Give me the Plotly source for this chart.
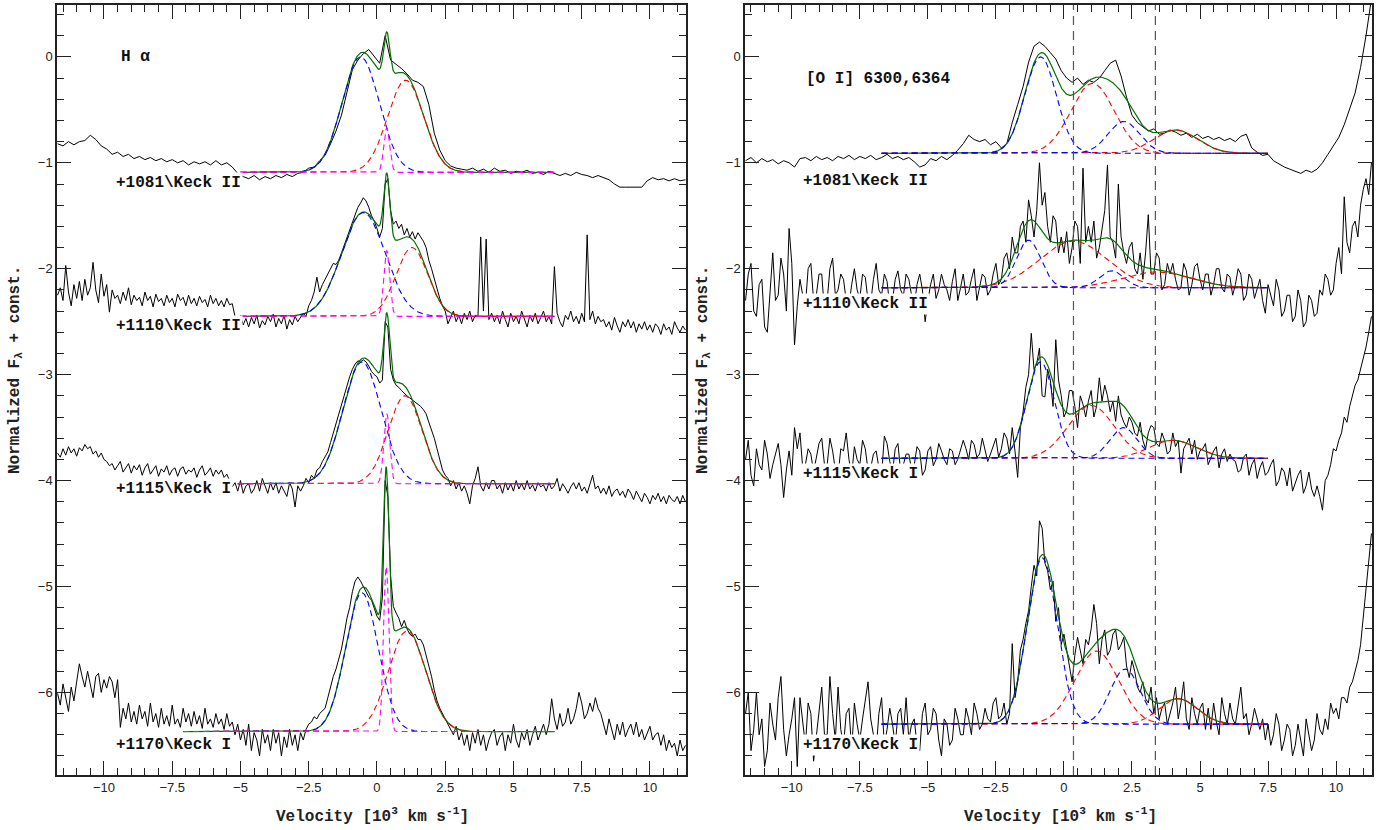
import numpy as np
import plotly.graph_objects as go

# ---------------- data ----------------
# velocity grids (10^3 km/s): every 0.2 and every 0.1 from -11.7 to 11.3
VEL = np.round(-11.7 + 0.2 * np.arange(116), 2)
VEL_FINE = np.round(-11.7 + 0.1 * np.arange(231), 2)

# H-alpha spectra (normalized flux + const.)
HA_1081 = [  # on VEL
    -0.82, -0.84, -0.80, -0.83, -0.80, -0.79, -0.74, -0.78, -0.84, -0.87,
    -0.92, -0.90, -0.94, -0.92, -0.96, -0.94, -0.97, -0.95, -0.98, -0.96,
    -0.99, -0.97, -1.00, -0.98, -1.02, -0.99, -1.01, -0.99, -1.02, -0.98,
    -1.02, -1.00, -1.04, -1.10, -1.13, -1.15, -1.12, -1.16, -1.13, -1.15,
    -1.12, -1.14, -1.11, -1.13, -1.10, -1.09, -1.05, -1.04, -0.98, -0.93,
    -0.82, -0.70, -0.55, -0.32, -0.12, -0.03, 0.03, 0.07, 0.01, -0.06,
    0.20, -0.03, -0.07, -0.11, -0.16, -0.22, -0.24, -0.28, -0.45, -0.72,
    -0.88, -0.98, -1.03, -1.05, -1.06, -1.07, -1.05, -1.08, -1.06, -1.09,
    -1.05, -1.08, -1.07, -1.10, -1.08, -1.09, -1.07, -1.10, -1.09, -1.11,
    -1.08, -1.10, -1.12, -1.10, -1.12, -1.09, -1.11, -1.12, -1.14, -1.12,
    -1.14, -1.16, -1.20, -1.23, -1.23, -1.23, -1.23, -1.23, -1.17, -1.14,
    -1.16, -1.15, -1.17, -1.15, -1.17, -1.16]
HA_1110 = [  # on VEL_FINE
    -2.25, -2.18, -2.30, -1.97, -2.22, -2.35, -2.15, -2.28, -2.12, -2.30,
    -2.10, -2.25, -2.18, -1.94, -2.20, -2.32, -2.05, -2.26, -2.15, -2.41,
    -2.20, -2.28, -2.25, -2.33, -2.22, -2.30, -2.18, -2.34, -2.25, -2.30,
    -2.27, -2.35, -2.22, -2.30, -2.26, -2.36, -2.24, -2.31, -2.28, -2.35,
    -2.25, -2.32, -2.28, -2.36, -2.24, -2.30, -2.27, -2.35, -2.25, -2.33,
    -2.28, -2.35, -2.26, -2.32, -2.29, -2.36, -2.25, -2.33, -2.28, -2.35,
    -2.30, -2.36, -2.28, -2.34, -2.33, -2.45, -2.50, -2.44, -2.53, -2.47,
    -2.55, -2.46, -2.52, -2.44, -2.56, -2.49, -2.53, -2.45, -2.50, -2.43,
    -2.55, -2.47, -2.52, -2.44, -2.57, -2.48, -2.53, -2.45, -2.50, -2.46,
    -2.42, -2.45, -2.35, -2.30, -2.22, -2.08, -2.22, -2.15, -2.10, -2.05,
    -2.00, -1.95, -1.96, -1.92, -1.85, -1.78, -1.70, -1.62, -1.56, -1.50,
    -1.42, -1.38, -1.33, -1.36, -1.42, -1.50, -1.55, -1.62, -1.70, -1.62,
    -1.20, -1.15, -1.45, -1.58, -1.55, -1.62, -1.58, -1.68, -1.62, -1.70,
    -1.65, -1.72, -1.66, -1.70, -1.74, -1.80, -1.92, -2.00, -2.10, -2.20,
    -2.28, -2.35, -2.40, -2.52, -2.45, -2.40, -2.50, -2.44, -2.52, -2.42,
    -2.48, -2.40, -2.50, -2.44, -2.45, -1.70, -2.40, -1.72, -2.48, -2.42,
    -2.50, -2.44, -2.52, -2.40, -2.48, -2.55, -2.42, -2.50, -2.45, -2.52,
    -2.40, -2.48, -2.55, -2.44, -2.50, -2.42, -2.52, -2.46, -2.40, -2.50,
    -2.45, -2.52, -1.98, -2.42, -2.50, -2.55, -2.44, -2.48, -2.40, -2.50,
    -2.45, -2.52, -2.42, -2.50, -1.68, -2.48, -2.40, -2.52, -2.45, -2.50,
    -2.48, -2.55, -2.50, -2.58, -2.46, -2.54, -2.60, -2.50, -2.55, -2.48,
    -2.56, -2.50, -2.60, -2.52, -2.57, -2.50, -2.58, -2.53, -2.60, -2.52,
    -2.55, -2.62, -2.52, -2.58, -2.55, -2.62, -2.50, -2.56, -2.60, -2.54,
    -2.58]
HA_1115 = [  # on VEL_FINE
    -3.74, -3.78, -3.70, -3.76, -3.68, -3.74, -3.70, -3.77, -3.69, -3.72,
    -3.66, -3.70, -3.68, -3.75, -3.72, -3.78, -3.74, -3.80, -3.82, -3.86,
    -3.84, -3.90, -3.86, -3.82, -3.92, -3.88, -3.84, -3.93, -3.86, -3.90,
    -3.85, -3.95, -3.88, -3.84, -3.94, -3.90, -3.86, -3.96, -3.89, -3.92,
    -3.86, -3.95, -3.90, -3.88, -3.96, -3.89, -3.87, -3.94, -3.90, -3.92,
    -3.88, -3.97, -3.90, -3.86, -3.95, -3.92, -3.88, -3.96, -3.90, -3.94,
    -3.90, -3.97, -3.94, -4.00, -4.06, -4.02, -4.10, -4.00, -4.12, -4.05,
    -4.03, -4.12, -4.08, -4.00, -4.10, -3.98, -4.06, -4.12, -4.02, -4.09,
    -4.02, -4.12, -4.05, -4.10, -4.15, -4.02, -4.08, -4.25, -4.05, -4.10,
    -4.05, -3.98, -4.02, -3.95, -3.98, -3.90, -3.88, -3.82, -3.78, -3.73,
    -3.64, -3.55, -3.45, -3.38, -3.28, -3.18, -3.10, -3.02, -2.95, -2.90,
    -2.87, -2.88, -2.86, -2.88, -2.92, -2.97, -3.00, -3.02, -3.08, -3.05,
    -2.50, -2.55, -2.95, -3.05, -3.10, -3.12, -3.15, -3.18, -3.20, -3.22,
    -3.24, -3.26, -3.28, -3.30, -3.33, -3.37, -3.45, -3.52, -3.60, -3.70,
    -3.80, -3.90, -3.95, -3.98, -4.05, -4.00, -4.08, -4.02, -4.10, -4.05,
    -4.12, -4.22, -4.05, -3.98, -3.87, -4.05, -4.10, -4.02, -4.08, -4.00,
    -4.00, -4.08, -4.04, -4.12, -4.02, -4.09, -4.03, -4.10, -4.00, -4.08,
    -4.03, -4.09, -4.00, -4.08, -4.04, -4.10, -4.02, -4.06, -4.04, -4.10,
    -4.02, -4.08, -4.05, -3.98, -4.10, -4.03, -4.07, -4.12, -4.06, -4.02,
    -4.08, -4.02, -4.10, -4.06, -4.12, -4.04, -3.95, -4.08, -4.05, -4.12,
    -4.07, -4.13, -4.05, -4.15, -4.10, -4.08, -4.14, -4.10, -4.16, -4.08,
    -4.12, -4.18, -4.10, -4.15, -4.20, -4.12, -4.16, -4.22, -4.14, -4.18,
    -4.12, -4.20, -4.15, -4.22, -4.14, -4.18, -4.20, -4.15, -4.22, -4.14,
    -4.20]
HA_1170 = [  # on VEL_FINE
    -6.01, -6.12, -5.92, -6.05, -6.18, -5.95, -6.08, -5.90, -5.73, -5.85,
    -5.95, -5.80, -5.92, -6.05, -5.85, -5.82, -6.00, -5.88, -5.96, -5.85,
    -5.90, -6.05, -5.88, -6.33, -6.15, -6.25, -6.10, -6.28, -6.18, -6.30,
    -6.12, -6.25, -6.18, -6.32, -6.10, -6.28, -6.20, -6.33, -6.15, -6.30,
    -6.22, -6.32, -6.12, -6.30, -6.25, -6.33, -6.15, -6.28, -6.20, -6.32,
    -6.18, -6.30, -6.22, -6.34, -6.15, -6.30, -6.25, -6.33, -6.20, -6.30,
    -6.25, -6.35, -6.20, -6.32, -6.28, -6.40, -6.30, -6.45, -6.35, -6.50,
    -6.30, -6.55, -6.38, -6.45, -6.60, -6.35, -6.48, -6.40, -6.55, -6.35,
    -6.48, -6.38, -6.60, -6.42, -6.52, -6.35, -6.50, -6.40, -6.55, -6.38,
    -6.45, -6.35, -6.30, -6.28, -6.23, -6.25, -6.20, -6.17, -6.15, -6.05,
    -5.95, -5.85, -5.78, -5.68, -5.59, -5.45, -5.30, -5.20, -5.05, -4.95,
    -4.91, -4.95, -5.00, -5.04, -5.10, -5.13, -5.20, -5.28, -5.32, -5.10,
    -4.00, -4.15, -4.90, -5.19, -5.25, -5.30, -5.38, -5.32, -5.40, -5.45,
    -5.47, -5.45, -5.50, -5.50, -5.55, -5.65, -5.73, -5.85, -5.98, -6.08,
    -6.15, -6.20, -6.25, -6.30, -6.35, -6.40, -6.32, -6.45, -6.38, -6.50,
    -6.40, -6.55, -6.38, -6.48, -6.35, -6.50, -6.40, -6.55, -6.45, -6.38,
    -6.35, -6.50, -6.42, -6.38, -6.55, -6.40, -6.48, -6.30, -6.45, -6.52,
    -6.38, -6.45, -6.35, -6.50, -6.40, -6.32, -6.45, -6.38, -6.30, -6.40,
    -6.30, -6.06, -6.25, -6.35, -6.20, -6.32, -6.28, -6.15, -6.30, -6.25,
    -6.15, -6.00, -6.10, -6.25, -6.20, -6.10, -6.18, -6.05, -6.15, -6.20,
    -6.30, -6.40, -6.25, -6.35, -6.45, -6.30, -6.40, -6.28, -6.42, -6.35,
    -6.30, -6.40, -6.28, -6.42, -6.35, -6.45, -6.38, -6.32, -6.45, -6.40,
    -6.38, -6.50, -6.40, -6.55, -6.45, -6.52, -6.48, -6.60, -6.45, -6.55,
    -6.50]

# [O I] 6300,6364 spectra
OI_1081 = [  # on VEL
    -0.98, -0.95, -1.00, -0.96, -0.99, -0.97, -1.01, -0.98, -1.00, -1.04,
    -0.96, -0.95, -0.98, -0.94, -0.97, -0.95, -0.98, -0.94, -0.96, -0.93,
    -0.97, -0.94, -0.96, -0.93, -0.97, -0.95, -0.92, -0.96, -0.94, -0.97,
    -0.95, -0.99, -1.04, -1.02, -0.96, -0.98, -0.94, -0.97, -0.93, -0.88,
    -0.82, -0.74, -0.78, -0.80, -0.78, -0.83, -0.80, -0.86, -0.82, -0.62,
    -0.45, -0.28, -0.05, 0.10, 0.14, 0.10, 0.04, -0.02, -0.13, -0.20,
    -0.24, -0.20, -0.26, -0.22, -0.24, -0.20, -0.13, -0.06, -0.03, -0.18,
    -0.38, -0.55, -0.62, -0.66, -0.70, -0.68, -0.73, -0.72, -0.69, -0.71,
    -0.74, -0.72, -0.76, -0.73, -0.77, -0.75, -0.78, -0.76, -0.79, -0.77,
    -0.80, -0.75, -0.73, -0.86, -0.90, -0.93, -0.92, -0.98, -1.01, -1.04,
    -1.06, -1.08, -1.10, -1.07, -1.09, -1.06, -1.00, -0.92, -0.84, -0.76,
    -0.64, -0.50, -0.34, -0.10, 0.20, 0.55]
OI_1110 = [  # on VEL_FINE
    -2.30, -2.05, -1.95, -2.40, -2.45, -2.15, -2.10, -2.55, -2.60, -2.20,
    -1.85, -2.30, -2.25, -1.90, -2.05, -2.40, -1.62, -1.95, -2.72, -2.35,
    -2.10, -2.25, -2.35, -2.00, -1.95, -2.30, -2.25, -2.05, -2.05, -2.40,
    -2.30, -2.00, -1.90, -2.25, -2.20, -2.05, -2.10, -2.30, -2.35, -2.15,
    -2.00, -2.20, -2.28, -2.05, -2.08, -2.30, -2.32, -2.10, -1.95, -2.20,
    -2.25, -2.05, -2.12, -2.35, -2.30, -2.10, -2.02, -2.20, -2.26, -2.05,
    -2.10, -2.25, -2.35, -2.15, -2.05, -2.20, -2.50, -2.30, -2.15, -2.05,
    -2.28, -2.20, -2.05, -2.15, -2.20, -2.30, -2.12, -2.00, -2.30, -2.18,
    -2.05, -2.25, -2.22, -2.10, -2.00, -2.30, -2.18, -2.05, -2.08, -2.25,
    -2.20, -2.05, -1.95, -2.15, -2.10, -1.90, -1.85, -2.00, -1.70, -1.85,
    -1.85, -1.60, -1.55, -1.75, -1.35, -1.50, -1.70, -1.45, -1.00, -1.40,
    -1.28, -1.60, -1.75, -1.50, -1.55, -1.85, -1.70, -1.85, -1.65, -1.95,
    -1.80, -1.55, -1.60, -1.95, -1.05, -1.75, -1.60, -1.75, -1.55, -1.90,
    -1.80, -1.60, -1.45, -1.02, -1.70, -1.75, -1.90, -1.20, -1.70, -1.85,
    -1.95, -1.80, -1.75, -2.00, -2.05, -1.85, -2.10, -1.85, -1.49, -2.05,
    -2.05, -1.85, -1.90, -2.20, -2.15, -1.95, -2.05, -1.95, -2.10, -2.20,
    -2.18, -1.95, -2.02, -2.25, -2.15, -1.98, -1.95, -2.10, -2.20, -2.05,
    -2.05, -2.25, -2.15, -2.00, -2.00, -2.18, -2.22, -2.05, -2.08, -2.25,
    -2.15, -2.00, -2.05, -2.30, -2.25, -2.05, -2.10, -2.28, -2.20, -2.10,
    -2.30, -2.42, -2.15, -2.25, -2.35, -2.10, -2.20, -2.45, -2.40, -2.25,
    -2.25, -2.50, -2.45, -2.20, -2.30, -2.55, -2.50, -2.25, -2.30, -2.45,
    -2.42, -2.20, -2.25, -2.05, -2.10, -2.25, -2.20, -1.95, -1.80, -2.05,
    -1.32, -1.75, -1.85, -1.60, -1.55, -1.70, -1.40, -1.25, -1.15, -1.30,
    -1.00]
OI_1115 = [  # on VEL_FINE
    -3.80, -3.62, -3.95, -4.05, -3.70, -3.85, -3.90, -3.62, -3.75, -3.98,
    -3.85, -3.75, -3.65, -3.85, -4.16, -3.90, -3.72, -3.95, -3.50, -3.70,
    -3.55, -3.88, -3.85, -3.70, -3.75, -3.92, -3.80, -3.65, -3.60, -3.85,
    -3.85, -3.60, -3.72, -3.90, -3.95, -3.70, -3.72, -3.55, -3.80, -3.95,
    -3.68, -3.80, -3.85, -3.62, -3.70, -3.90, -3.88, -3.75, -3.72, -3.88,
    -3.95, -3.58, -3.65, -3.82, -3.92, -3.70, -3.65, -3.92, -3.85, -3.75,
    -3.75, -3.90, -3.85, -3.68, -3.72, -3.95, -3.90, -3.72, -3.68, -3.86,
    -3.80, -3.65, -3.72, -3.80, -3.85, -3.70, -3.72, -3.85, -3.80, -3.72,
    -3.62, -3.70, -3.80, -3.62, -3.66, -3.78, -3.75, -3.60, -3.70, -3.82,
    -3.75, -3.68, -3.60, -3.78, -3.70, -3.55, -3.60, -3.75, -3.50, -3.72,
    -3.97, -3.50, -3.35, -3.12, -3.00, -2.61, -2.95, -2.90, -2.75, -3.20,
    -3.21, -2.95, -3.05, -3.30, -2.67, -3.05, -3.20, -3.40, -3.34, -3.15,
    -3.15, -3.30, -3.50, -3.20, -3.28, -3.40, -3.25, -3.15, -3.40, -3.30,
    -3.03, -3.25, -3.10, -3.20, -3.35, -3.25, -3.44, -3.20, -3.38, -3.45,
    -3.50, -3.40, -3.45, -3.55, -3.58, -3.45, -3.62, -3.70, -3.55, -3.48,
    -3.50, -3.65, -3.68, -3.55, -3.62, -3.75, -3.72, -3.55, -3.68, -3.62,
    -3.93, -3.70, -3.65, -3.60, -3.75, -3.62, -3.80, -3.72, -3.70, -3.65,
    -3.85, -3.78, -3.72, -3.68, -3.88, -3.75, -3.70, -3.82, -3.75, -3.80,
    -3.82, -3.92, -3.90, -3.78, -3.75, -3.95, -3.85, -3.80, -3.98, -3.88,
    -3.82, -3.95, -3.92, -3.85, -3.80, -4.05, -4.00, -3.88, -3.92, -4.05,
    -3.88, -4.10, -4.02, -3.95, -3.90, -4.12, -4.05, -3.92, -4.08, -4.15,
    -4.05, -4.15, -4.28, -4.00, -3.95, -3.85, -3.70, -3.72, -3.62, -3.55,
    -3.40, -3.45, -3.30, -3.20, -3.10, -3.05, -2.95, -2.85, -2.74, -2.60,
    -2.45]
OI_1170 = [  # on VEL_FINE
    -6.20, -6.00, -6.55, -6.35, -6.00, -6.40, -6.25, -6.70, -6.55, -6.10,
    -6.30, -6.45, -6.05, -5.85, -6.35, -6.60, -6.40, -6.25, -6.05, -6.70,
    -6.05, -6.30, -6.50, -6.10, -6.20, -6.65, -6.40, -6.15, -5.95, -6.40,
    -6.40, -5.85, -6.20, -6.45, -5.95, -6.35, -6.50, -6.20, -6.15, -6.55,
    -6.10, -6.30, -6.45, -6.25, -6.05, -5.90, -6.25, -6.40, -6.55, -6.20,
    -6.05, -6.50, -6.35, -6.15, -6.30, -6.50, -6.20, -6.15, -6.40, -6.05,
    -6.45, -6.30, -6.25, -6.50, -6.55, -6.20, -6.10, -6.40, -6.35, -6.15,
    -6.20, -6.45, -6.60, -6.25, -6.30, -6.50, -6.45, -6.15, -6.25, -6.40,
    -6.40, -6.15, -6.25, -6.40, -6.10, -6.20, -6.35, -6.30, -6.15, -6.25,
    -6.28, -6.10, -6.05, -6.25, -6.22, -6.10, -6.30, -6.20, -5.54, -6.05,
    -5.90, -5.60, -5.50, -5.35, -5.23, -5.00, -4.80, -4.90, -4.38, -4.45,
    -4.78, -4.85, -5.03, -4.95, -5.33, -5.20, -5.55, -5.45, -5.62, -5.75,
    -5.90, -5.65, -5.48, -5.60, -5.73, -5.50, -5.55, -5.40, -5.17, -5.35,
    -5.73, -5.50, -5.41, -5.65, -5.60, -5.45, -5.41, -5.60, -5.55, -5.48,
    -5.75, -5.86, -5.70, -5.80, -5.95, -6.00, -5.90, -6.06, -6.10, -5.95,
    -6.20, -6.05, -6.25, -6.15, -6.10, -6.30, -6.20, -6.10, -5.95, -6.25,
    -6.10, -5.90, -6.25, -6.35, -6.05, -6.20, -6.30, -6.15, -6.10, -6.35,
    -6.15, -6.35, -6.10, -6.28, -6.40, -6.05, -6.20, -6.30, -6.10, -6.25,
    -6.30, -6.10, -5.95, -6.25, -6.20, -6.40, -6.30, -6.15, -6.25, -6.35,
    -6.25, -6.45, -6.30, -6.50, -6.40, -6.20, -6.30, -6.55, -6.45, -6.30,
    -6.35, -6.60, -6.50, -6.30, -6.45, -6.60, -6.25, -6.40, -6.55, -6.45,
    -6.20, -6.35, -6.40, -6.25, -6.35, -6.10, -6.20, -6.15, -6.25, -6.05,
    -6.05, -6.10, -5.95, -5.90, -5.80, -5.70, -5.55, -5.30, -5.00, -4.80,
    -4.50]

HA_SPECTRA = [(VEL, HA_1081), (VEL_FINE, HA_1110), (VEL_FINE, HA_1115), (VEL_FINE, HA_1170)]
OI_SPECTRA = [(VEL, OI_1081), (VEL_FINE, OI_1110), (VEL_FINE, OI_1115), (VEL_FINE, OI_1170)]
EPOCH_LABELS = ["+1081\\Keck II", "+1110\\Keck II", "+1115\\Keck I", "+1170\\Keck I"]

# Gaussian fit components: (amplitude, centre, sigma) in 10^3 km/s
HA_BASE = [-1.09, -2.45, -4.03, -6.37]
HA_FIT_RANGE = [(-5.0, 6.5), (-5.0, 6.5), (-5.1, 6.5), (-7.1, 6.5)]
HA_BLUE = [(1.09, -0.60, 0.68), (0.98, -0.50, 0.80), (1.15, -0.55, 0.70), (1.31, -0.55, 0.60)]
HA_RED = [(0.87, 1.05, 0.66), (0.65, 1.28, 0.58), (0.83, 1.03, 0.62), (0.95, 1.10, 0.68)]
HA_NARROW = [(0.42, 0.36, 0.11), (0.62, 0.36, 0.11), (0.66, 0.36, 0.11), (1.56, 0.34, 0.10)]

OI_BASE = [-0.91, -2.18, -3.79, -6.30]
OI_FIT_RANGE = [(-6.7, 7.5)] * 4
OI_BLUE_6300 = [(0.91, -0.86, 0.58), (0.45, -1.30, 0.45), (0.91, -0.86, 0.50), (1.57, -0.80, 0.55)]
OI_BLUE_6364 = [(0.30, 2.20, 0.58), (0.16, 1.75, 0.45), (0.29, 2.19, 0.50), (0.52, 2.25, 0.55)]
OI_RED_6300 = [(0.66, 1.05, 0.80), (0.44, 0.35, 1.25), (0.50, 1.00, 0.85), (0.69, 1.20, 0.80)]
OI_RED_6364 = [(0.22, 4.10, 0.80), (0.15, 3.40, 1.25), (0.17, 4.00, 0.85), (0.24, 4.20, 0.70)]
OI_MARKERS = [0.35, 3.36]

HA_LABEL_Y = [-1.19, -2.54, -4.08, -6.50]
OI_LABEL_Y = [-1.17, -2.33, -3.94, -6.50]

# ---------------- figure ----------------
def gauss(v, comp):
    a, mu, s = comp
    return a * np.exp(-0.5 * ((v - mu) / s) ** 2)

fig = go.Figure()
DASH = "6px,4px"
MONO = "Liberation Mono"

def line(x, y, color, width, dash=None, xa="x", ya="y"):
    fig.add_trace(go.Scatter(x=x, y=y, mode="lines", xaxis=xa, yaxis=ya,
                             line=dict(color=color, width=width, dash=dash),
                             hoverinfo="skip", showlegend=False))

# left panel: H alpha
for vx, vy in HA_SPECTRA:
    line(vx, vy, "black", 1.0)
for i in range(4):
    lo, hi = HA_FIT_RANGE[i]
    v = np.linspace(lo, hi, 600)
    b = HA_BASE[i]
    gb, gr, gn = gauss(v, HA_BLUE[i]), gauss(v, HA_RED[i]), gauss(v, HA_NARROW[i])
    line(v, b + gb + gr + gn, "#007000", 1.2)
    line(v, b + gb, "#0000ff", 1.1, DASH)
    line(v, b + gr, "#ff0000", 1.1, DASH)
    line(v, b + gn, "#ff00ff", 1.1, DASH)

# right panel: [O I]
for vx, vy in OI_SPECTRA:
    line(vx, vy, "black", 1.0, xa="x2", ya="y2")
for i in range(4):
    lo, hi = OI_FIT_RANGE[i]
    v = np.linspace(lo, hi, 600)
    b = OI_BASE[i]
    b1, b2 = gauss(v, OI_BLUE_6300[i]), gauss(v, OI_BLUE_6364[i])
    r1, r2 = gauss(v, OI_RED_6300[i]), gauss(v, OI_RED_6364[i])
    line(v, b + b1 + b2 + r1 + r2, "#007000", 1.2, xa="x2", ya="y2")
    line(v, b + r1, "#ff0000", 1.1, DASH, "x2", "y2")
    line(v, b + r2, "#ff0000", 1.1, DASH, "x2", "y2")
    line(v, b + b1, "#0000ff", 1.1, DASH, "x2", "y2")
    line(v, b + b2, "#0000ff", 1.1, DASH, "x2", "y2")

for xm in OI_MARKERS:
    fig.add_shape(type="line", xref="x2", yref="y2 domain", x0=xm, x1=xm, y0=0, y1=1,
                  line=dict(color="#555555", width=1.2, dash="9px,6px"), layer="above")

W, H = 1394, 830
XD1 = [57 / W, 686 / W]
XD2 = [745 / W, 1372 / W]
YD = [1 - 775 / H, 1 - 5 / H]
XR = [-11.72, 11.32]
YR = [-6.78, 0.49]

tickfont = dict(family="Liberation Sans", size=13, color="#222")
def xax(domain, anchor):
    return dict(domain=domain, anchor=anchor, range=XR, showline=True, linecolor="#222",
                linewidth=1.5, mirror="allticks", ticks="inside", ticklen=14, tickwidth=1.3,
                tickcolor="#222", tick0=0, dtick=2.5, showgrid=False, zeroline=False,
                tickfont=tickfont,
                minor=dict(ticks="inside", ticklen=7, tickwidth=1.1, tickcolor="#222", dtick=0.5))
def yax(anchor):
    return dict(domain=YD, anchor=anchor, range=YR, showline=True, linecolor="#222",
                linewidth=1.5, mirror="allticks", ticks="inside", ticklen=14, tickwidth=1.3,
                tickcolor="#222", tick0=0, dtick=1, showgrid=False, zeroline=False,
                tickfont=tickfont,
                minor=dict(ticks="inside", ticklen=7, tickwidth=1.1, tickcolor="#222", dtick=0.2))

fig.update_layout(
    width=W, height=H, margin=dict(l=0, r=0, t=0, b=0),
    paper_bgcolor="white", plot_bgcolor="white", showlegend=False,
    xaxis=xax(XD1, "y"), yaxis=yax("x"),
    xaxis2=xax(XD2, "y2"), yaxis2=yax("x2"),
)

labfont = dict(family=MONO, size=16, color="#111")
ann = []
ann.append(dict(x=-9.45, y=0.0, xref="x", yref="y", text="<b>H α</b>", showarrow=False,
                xanchor="left", yanchor="middle", font=labfont))
ann.append(dict(x=-9.56, y=-0.21, xref="x2", yref="y2", text="<b>[O I] 6300,6364</b>",
                showarrow=False, xanchor="left", yanchor="middle", font=labfont))
for i in range(4):
    ann.append(dict(x=-9.62, y=HA_LABEL_Y[i], xref="x", yref="y", text="<b>%s</b>" % EPOCH_LABELS[i],
                    showarrow=False, xanchor="left", yanchor="middle", font=labfont,
                    bgcolor="white", borderpad=1))
    ann.append(dict(x=-9.67, y=OI_LABEL_Y[i], xref="x2", yref="y2", text="<b>%s</b>" % EPOCH_LABELS[i],
                    showarrow=False, xanchor="left", yanchor="middle", font=labfont,
                    bgcolor="white", borderpad=1))
titfont = dict(family=MONO, size=16, color="#222")
xt = "<b>Velocity [10<sup>3</sup> km s<sup>-1</sup>]</b>"
yt = "<b>Normalized F<sub>λ</sub> + const.</b>"
for xc in [372 / W, 1060 / W]:
    ann.append(dict(x=xc, y=1 - 815 / H, xref="paper", yref="paper", text=xt, showarrow=False,
                    xanchor="center", yanchor="middle", font=titfont))
for xc in [15 / W, 703 / W]:
    ann.append(dict(x=xc, y=1 - 370 / H, xref="paper", yref="paper", text=yt, showarrow=False,
                    xanchor="center", yanchor="middle", textangle=-90, font=titfont))
fig.update_layout(annotations=ann)

fig.write_html("out.html")
